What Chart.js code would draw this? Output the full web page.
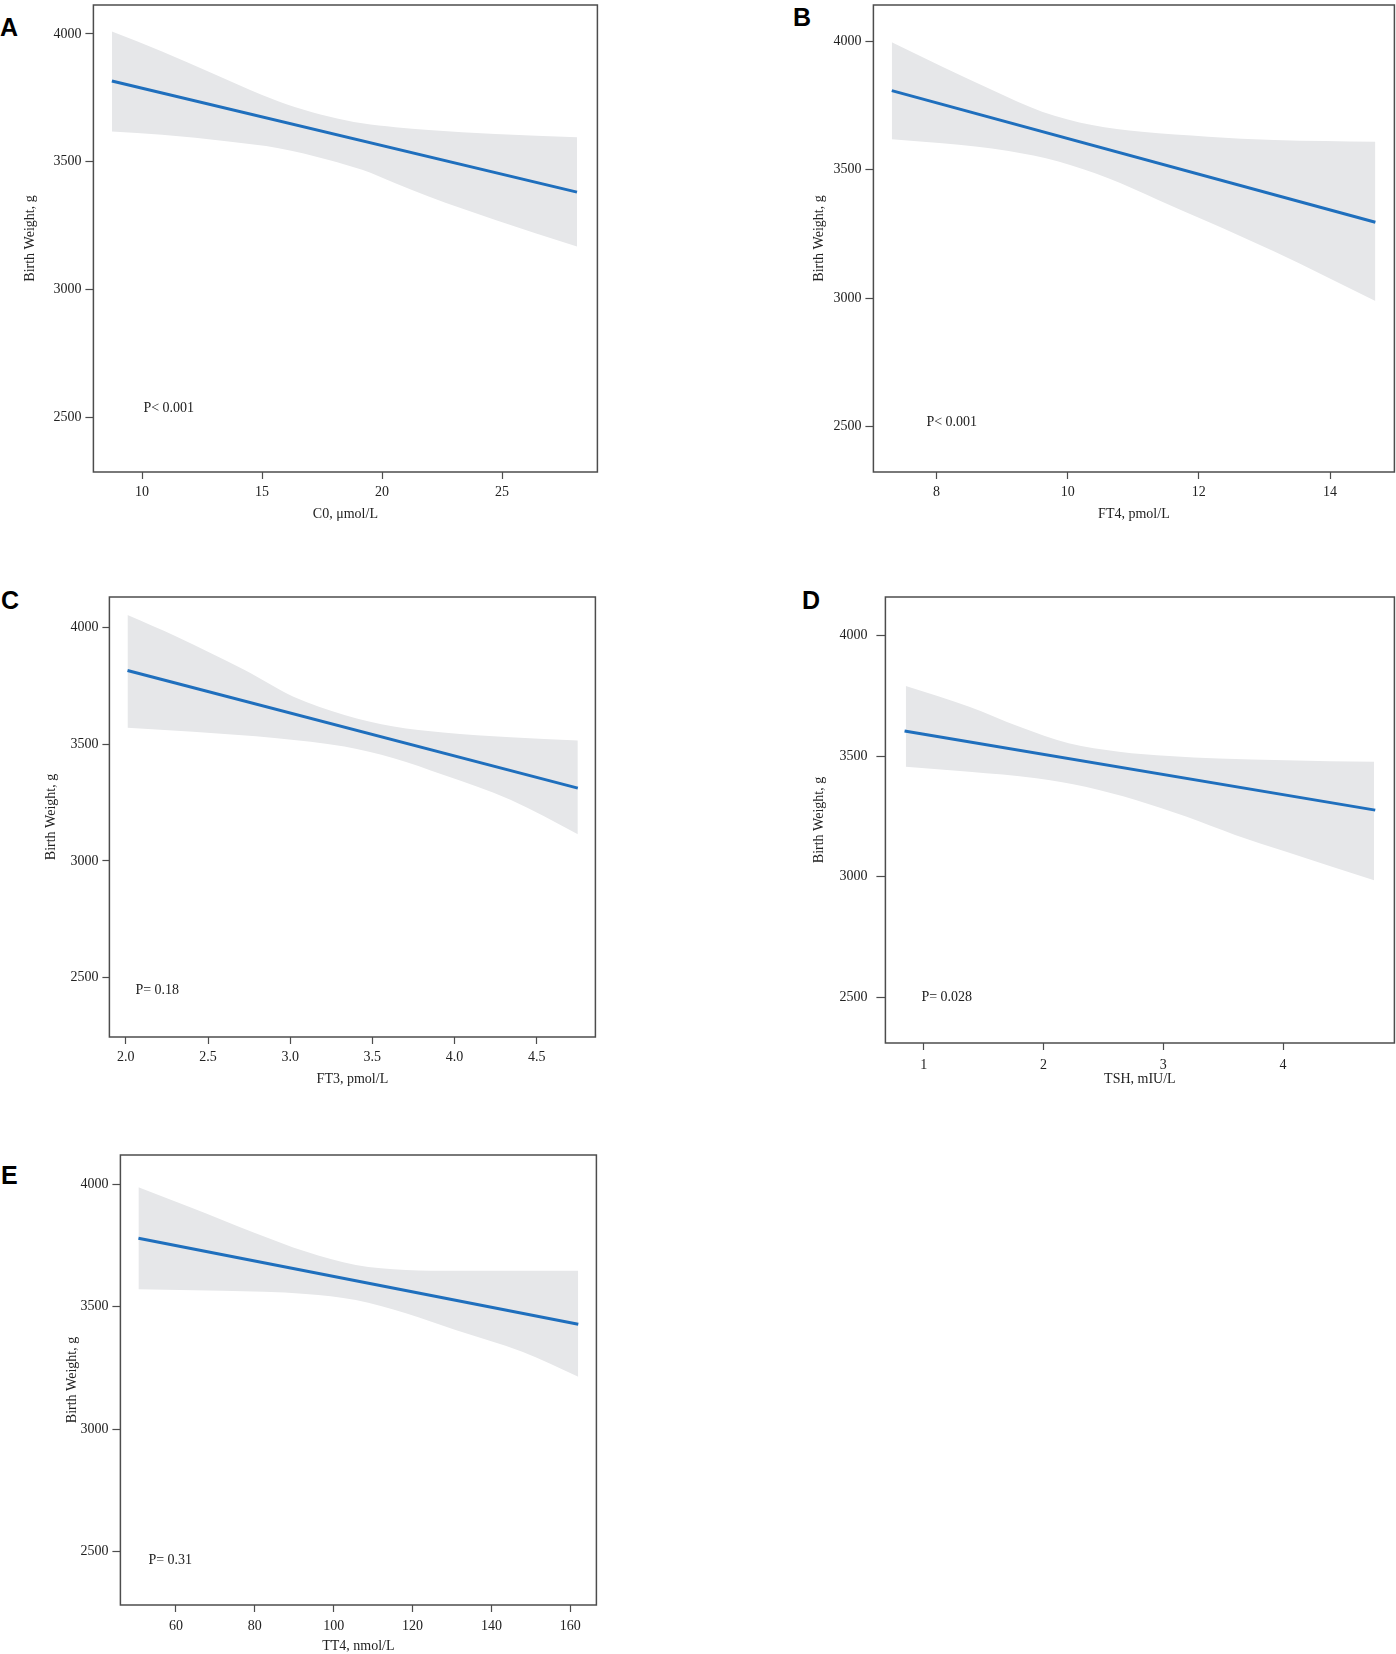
<!DOCTYPE html>
<html>
<head>
<meta charset="utf-8">
<script src="https://cdn.jsdelivr.net/npm/chart.js@4.4.1/dist/chart.umd.min.js"></script>
<style>
  html, body { margin: 0; padding: 0; background: #fff; overflow: hidden; }
  body { width: 1396px; height: 1654px; position: relative; }
  .panel { position: absolute; }
  .tag { position: absolute; font: bold 25px "Liberation Sans", Arial, sans-serif; line-height: 1; color: #000; }
</style>
</head>
<body>
<div class="tag" style="left:0px;top:15px">A</div>
<div class="tag" style="left:793px;top:5px">B</div>
<div class="tag" style="left:1px;top:588px">C</div>
<div class="tag" style="left:802px;top:588px">D</div>
<div class="tag" style="left:1px;top:1163px">E</div>

<div class="panel" id="pA"><canvas id="cA"></canvas></div>
<div class="panel" id="pB"><canvas id="cB"></canvas></div>
<div class="panel" id="pC"><canvas id="cC"></canvas></div>
<div class="panel" id="pD"><canvas id="cD"></canvas></div>
<div class="panel" id="pE"><canvas id="cE"></canvas></div>

<script>
// shared y axis
const Y_TICKS  = [2500, 3000, 3500, 4000];
const Y_LABELS = ['2500', '3000', '3500', '4000'];
const Y_TITLE  = 'Birth Weight, g';

// A — C0
const A_LINE_X  = [8.74, 28.12];
const A_LINE_Y  = [3816, 3381];
const A_UP_X    = [8.74, 10.83, 12.92, 15.0, 16.39, 17.78, 19.17, 20.55, 21.94, 24.72, 28.12];
const A_UP_Y    = [4009, 3931, 3846, 3761, 3713, 3677, 3650, 3635, 3624, 3608, 3596];
const A_LO_X    = [8.74, 10.83, 13.6, 15.69, 17.78, 19.17, 20.55, 21.94, 24.72, 28.12];
const A_LO_Y    = [3618, 3605, 3579, 3553, 3507, 3468, 3416, 3364, 3272, 3168];
const A_XTICKS  = [10, 15, 20, 25];
const A_XLABELS = ['10', '15', '20', '25'];

// B — FT4
const B_LINE_X  = [7.32, 14.69];
const B_LINE_Y  = [3807, 3295];
const B_UP_X    = [7.32, 8.09, 8.85, 9.61, 10.37, 11.13, 12.14, 13.15, 14.69];
const B_UP_Y    = [3995, 3900, 3809, 3725, 3673, 3647, 3628, 3615, 3608];
const B_LO_X    = [7.32, 8.09, 9.10, 9.86, 10.62, 11.38, 12.14, 13.15, 14.69];
const B_LO_Y    = [3618, 3602, 3572, 3531, 3466, 3382, 3297, 3181, 2989];
const B_XTICKS  = [8, 10, 12, 14];
const B_XLABELS = ['8', '10', '12', '14'];

// C — FT3
const C_LINE_X  = [2.01, 4.75];
const C_LINE_Y  = [3816, 3312];
const C_UP_X    = [2.01, 2.31, 2.72, 3.02, 3.33, 3.63, 3.93, 4.34, 4.75];
const C_UP_Y    = [4054, 3961, 3819, 3704, 3626, 3576, 3550, 3530, 3516];
const C_LO_X    = [2.01, 2.41, 2.92, 3.33, 3.63, 3.93, 4.34, 4.75];
const C_LO_Y    = [3571, 3554, 3526, 3490, 3440, 3369, 3262, 3115];
const C_XTICKS  = [2.0, 2.5, 3.0, 3.5, 4.0, 4.5];
const C_XLABELS = ['2.0', '2.5', '3.0', '3.5', '4.0', '4.5'];

// D — TSH
const D_LINE_X  = [0.84, 4.77];
const D_LINE_Y  = [3604, 3276];
const D_UP_X    = [0.85, 1.38, 1.80, 2.21, 2.63, 3.05, 3.46, 4.02, 4.76];
const D_UP_Y    = [3790, 3704, 3621, 3553, 3518, 3500, 3490, 3483, 3476];
const D_LO_X    = [0.85, 1.38, 1.94, 2.35, 2.77, 3.19, 3.60, 4.02, 4.76];
const D_LO_Y    = [3456, 3435, 3408, 3373, 3318, 3249, 3173, 3104, 2985];
const D_XTICKS  = [1, 2, 3, 4];
const D_XLABELS = ['1', '2', '3', '4'];

// E — TT4
const E_LINE_X  = [50.5, 162];
const E_LINE_Y  = [3779, 3428];
const E_UP_X    = [50.5, 63.3, 80.2, 92.9, 105.6, 118.3, 130.9, 162];
const E_UP_Y    = [3987, 3908, 3800, 3725, 3670, 3650, 3646, 3646];
const E_LO_X    = [50.5, 71.8, 92.9, 105.6, 118.3, 130.9, 147.8, 162];
const E_LO_Y    = [3571, 3565, 3552, 3527, 3473, 3405, 3316, 3214];
const E_XTICKS  = [60, 80, 100, 120, 140, 160];
const E_XLABELS = ['60', '80', '100', '120', '140', '160'];

const X_TITLES = ['C0, μmol/L', 'FT4, pmol/L', 'FT3, pmol/L', 'TSH, mIU/L', 'TT4, nmol/L'];
const P_TEXTS  = ['P< 0.001', 'P< 0.001', 'P= 0.18', 'P= 0.028', 'P= 0.31'];

const LINE_COLOR = '#1f6fbd';
const BAND_COLOR = '#e6e7e9';
const AXIS_COLOR = '#4d4d4d';
const TEXT_COLOR = '#222';
const SERIF = '"Liberation Serif", "Times New Roman", serif';

const pts = (xs, ys) => xs.map((x, i) => ({ x, y: ys[i] }));

// frame around the plot area + the P-value note
const framePlugin = {
  id: 'frame',
  afterDatasetsDraw(chart, args, opts) {
    const { ctx, chartArea: a } = chart;
    ctx.save();
    ctx.strokeStyle = AXIS_COLOR;
    ctx.lineWidth = 1.5;
    ctx.strokeRect(a.left, a.top, a.right - a.left, a.bottom - a.top);
    ctx.font = '14px ' + SERIF;
    ctx.fillStyle = TEXT_COLOR;
    ctx.textBaseline = 'middle';
    ctx.textAlign = 'left';
    ctx.fillText(opts.text, a.left + opts.dx, a.bottom - opts.dy);
    ctx.restore();
  }
};

// drop the label overhang padding so the plot box lands where it should
function noOverhang(s) {
  s.paddingTop = 0; s.paddingBottom = 0; s.paddingLeft = 0; s.paddingRight = 0;
}

function renderPanel(divId, canvasId, p) {
  const LH = 14 * 1.2;
  const left = p.yTitleX - LH / 2;
  const top = p.box.t - 2;
  const yW = p.box.l - left;
  const xH = p.xTitleY + LH / 2 - p.box.b;
  const div = document.getElementById(divId);
  div.style.left = left + 'px';
  div.style.top = top + 'px';
  div.style.width = (p.box.r + 2 - left) + 'px';
  div.style.height = (p.xTitleY + LH / 2 - top) + 'px';

  const font = { family: SERIF, size: 14 };
  return new Chart(document.getElementById(canvasId), {
    type: 'line',
    data: {
      datasets: [
        { data: pts(p.lineX, p.lineY), borderColor: LINE_COLOR, borderWidth: 3,
          pointRadius: 0, fill: false, tension: 0, borderCapStyle: 'butt' },
        { data: pts(p.upX, p.upY), borderColor: BAND_COLOR, borderWidth: 0,
          backgroundColor: BAND_COLOR, pointRadius: 0, fill: '+1', cubicInterpolationMode: 'monotone' },
        { data: pts(p.loX, p.loY), borderColor: BAND_COLOR, borderWidth: 0,
          pointRadius: 0, fill: false, cubicInterpolationMode: 'monotone' },
      ],
    },
    options: {
      responsive: true,
      maintainAspectRatio: false,
      animation: false,
      layout: { padding: { top: 2, right: 2, left: 0, bottom: 0 } },
      plugins: {
        legend: { display: false },
        tooltip: { enabled: false },
        frame: { text: p.pText, dx: p.pDx, dy: p.pDy },
      },
      scales: {
        x: {
          type: 'linear', min: p.xMin, max: p.xMax,
          afterBuildTicks: s => { s.ticks = p.xTicks.map(v => ({ value: v })); },
          afterFit: s => { s.height = xH; noOverhang(s); },
          ticks: { callback: (v, i) => p.xLabels[i], font, color: TEXT_COLOR,
                   padding: p.xPad, maxRotation: 0, autoSkip: false },
          grid: { display: true, drawOnChartArea: false, drawTicks: true,
                  tickLength: 7, tickColor: AXIS_COLOR, tickWidth: 1.2 },
          border: { display: false },
          title: { display: true, text: p.xTitle, font, color: TEXT_COLOR, padding: 0 },
        },
        y: {
          type: 'linear', min: p.yMin, max: p.yMax,
          afterBuildTicks: s => { s.ticks = Y_TICKS.map(v => ({ value: v })); },
          afterFit: s => { s.width = yW; noOverhang(s); },
          ticks: { callback: (v, i) => Y_LABELS[i], font, color: TEXT_COLOR,
                   padding: p.yPad, autoSkip: false },
          grid: { display: true, drawOnChartArea: false, drawTicks: true,
                  tickLength: p.yTick, tickColor: AXIS_COLOR, tickWidth: 1.2 },
          border: { display: false },
          title: { display: true, text: Y_TITLE, font, color: TEXT_COLOR, padding: 0 },
        },
      },
    },
    plugins: [framePlugin],
  });
}

renderPanel('pA', 'cA', {
  box: { l: 93, t: 5, r: 597, b: 472 }, yTitleX: 30, xTitleY: 514,
  xMin: 7.97, xMax: 28.97, yMin: 2286, yMax: 4113,
  lineX: A_LINE_X, lineY: A_LINE_Y, upX: A_UP_X, upY: A_UP_Y, loX: A_LO_X, loY: A_LO_Y,
  xTicks: A_XTICKS, xLabels: A_XLABELS, xTitle: X_TITLES[0],
  pText: P_TEXTS[0], pDx: 50, pDy: 64, xPad: 5, yPad: 4, yTick: 8,
});
renderPanel('pB', 'cB', {
  box: { l: 873, t: 5, r: 1394, b: 472 }, yTitleX: 819, xTitleY: 514,
  xMin: 7.04, xMax: 14.98, yMin: 2324, yMax: 4140,
  lineX: B_LINE_X, lineY: B_LINE_Y, upX: B_UP_X, upY: B_UP_Y, loX: B_LO_X, loY: B_LO_Y,
  xTicks: B_XTICKS, xLabels: B_XLABELS, xTitle: X_TITLES[1],
  pText: P_TEXTS[1], pDx: 53, pDy: 50, xPad: 5, yPad: 4, yTick: 8,
});
renderPanel('pC', 'cC', {
  box: { l: 109, t: 597, r: 595, b: 1037 }, yTitleX: 51, xTitleY: 1079,
  xMin: 1.90, xMax: 4.857, yMin: 2246, yMax: 4131,
  lineX: C_LINE_X, lineY: C_LINE_Y, upX: C_UP_X, upY: C_UP_Y, loX: C_LO_X, loY: C_LO_Y,
  xTicks: C_XTICKS, xLabels: C_XLABELS, xTitle: X_TITLES[2],
  pText: P_TEXTS[2], pDx: 26, pDy: 47, xPad: 5, yPad: 4, yTick: 7,
});
renderPanel('pD', 'cD', {
  box: { l: 885, t: 597, r: 1394, b: 1043 }, yTitleX: 819, xTitleY: 1079,
  xMin: 0.68, xMax: 4.93, yMin: 2311, yMax: 4159,
  lineX: D_LINE_X, lineY: D_LINE_Y, upX: D_UP_X, upY: D_UP_Y, loX: D_LO_X, loY: D_LO_Y,
  xTicks: D_XTICKS, xLabels: D_XLABELS, xTitle: X_TITLES[3],
  pText: P_TEXTS[3], pDx: 36, pDy: 46, xPad: 7, yPad: 9, yTick: 9,
});
renderPanel('pE', 'cE', {
  box: { l: 120, t: 1155, r: 596, b: 1605 }, yTitleX: 72, xTitleY: 1646,
  xMin: 45.93, xMax: 166.6, yMin: 2282, yMax: 4119,
  lineX: E_LINE_X, lineY: E_LINE_Y, upX: E_UP_X, upY: E_UP_Y, loX: E_LO_X, loY: E_LO_Y,
  xTicks: E_XTICKS, xLabels: E_XLABELS, xTitle: X_TITLES[4],
  pText: P_TEXTS[4], pDx: 28, pDy: 45, xPad: 6, yPad: 4, yTick: 8,
});
</script>
</body>
</html>
